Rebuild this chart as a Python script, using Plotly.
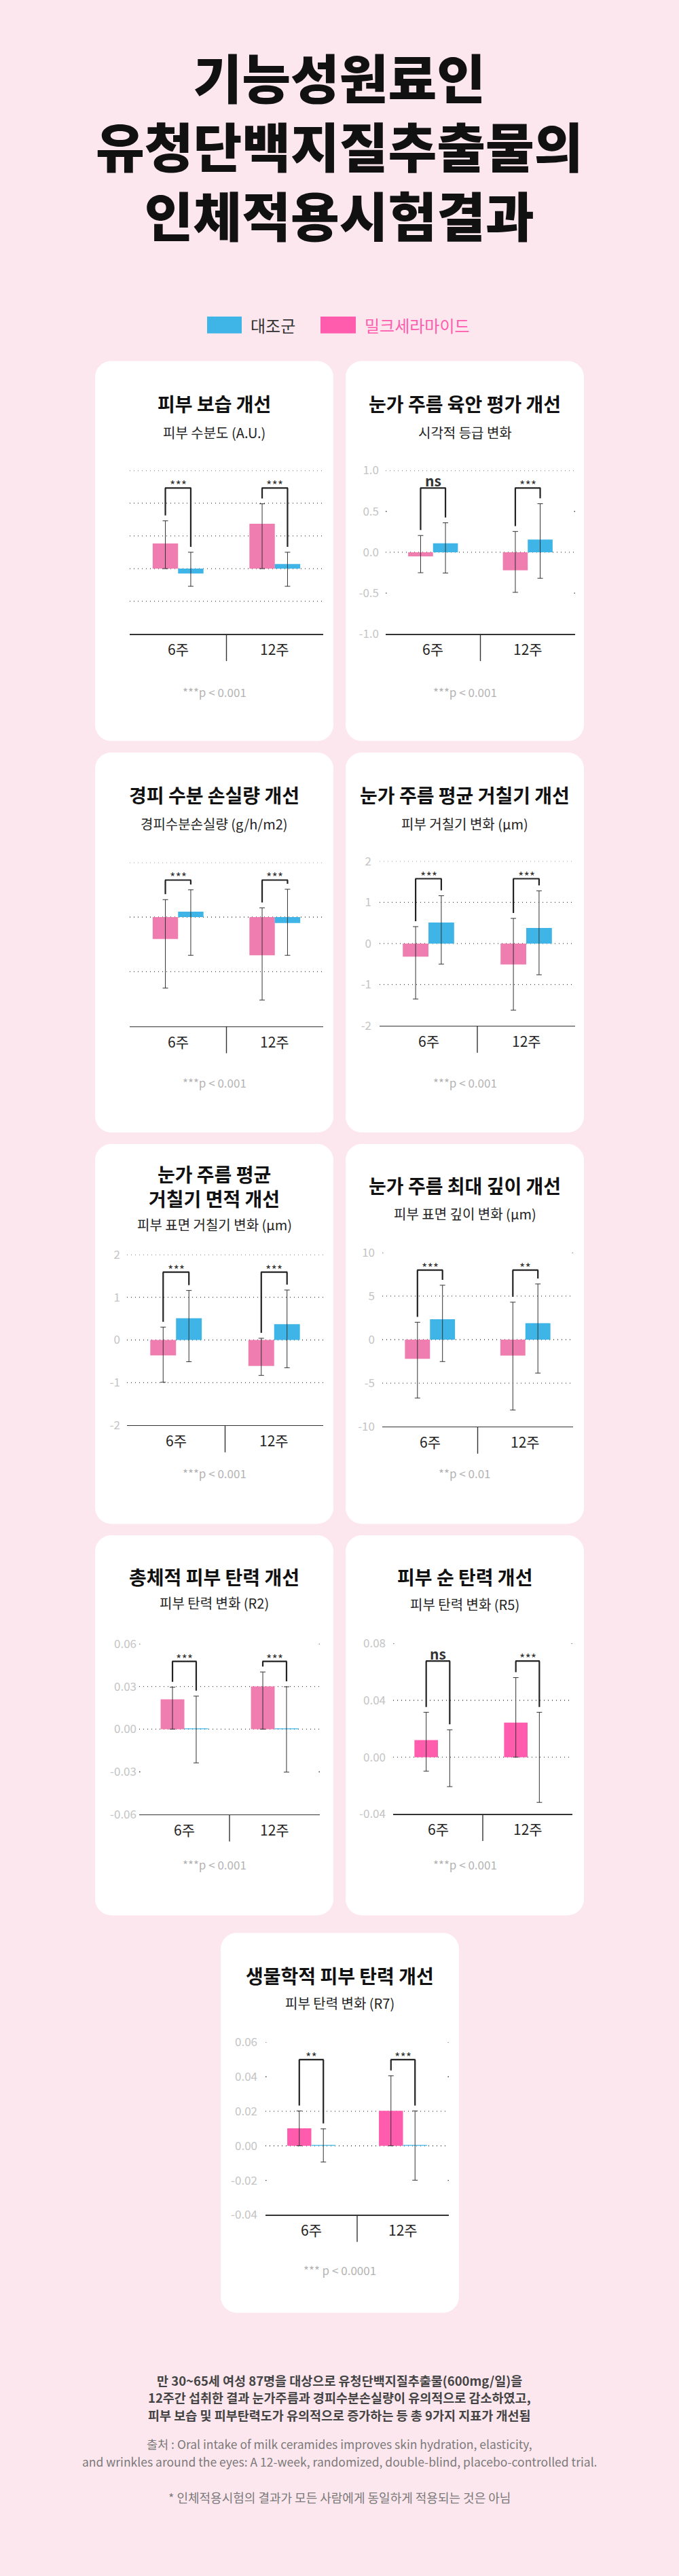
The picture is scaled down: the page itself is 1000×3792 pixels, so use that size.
import plotly.graph_objects as go

# ---------------- data ----------------
categories = ["6주", "12주"]
group_names = ["밀크세라마이드", "대조군"]
legend_labels = ["대조군", "밀크세라마이드"]

main_title = ["기능성원료인", "유청단백지질추출물의", "인체적용시험결과"]

titles = ["피부 보습 개선", "눈가 주름 육안 평가 개선", "경피 수분 손실량 개선",
          "눈가 주름 평균 거칠기 개선", "눈가 주름 평균<br>거칠기 면적 개선",
          "눈가 주름 최대 깊이 개선", "총체적 피부 탄력 개선", "피부 순 탄력 개선",
          "생물학적 피부 탄력 개선"]
subtitles = ["피부 수분도 (A.U.)", "시각적 등급 변화", "경피수분손실량 (g/h/m2)",
             "피부 거칠기 변화 (μm)", "피부 표면 거칠기 변화 (μm)", "피부 표면 깊이 변화 (μm)",
             "피부 탄력 변화 (R2)", "피부 탄력 변화 (R5)", "피부 탄력 변화 (R7)"]
footnotes = ["***p < 0.001", "***p < 0.001", "***p < 0.001", "***p < 0.001", "***p < 0.001",
             "**p < 0.01", "***p < 0.001", "***p < 0.001", "*** p < 0.0001"]
significance = [["***", "***"], ["ns", "***"], ["***", "***"], ["***", "***"], ["***", "***"],
                ["***", "**"], ["***", "***"], ["ns", "***"], ["**", "***"]]

milk_mean = [[0.77, 1.37], [-0.05, -0.22], [-0.40, -0.70], [-0.32, -0.51], [-0.36, -0.61],
             [-2.21, -1.84], [0.021, 0.030], [0.0121, 0.0244], [0.0101, 0.0202]]
milk_upper = [[1.46, 1.98], [0.205, 0.254], [0.32, 0.17], [0.41, 0.61], [0.30, 0.04],
              [2.0, 4.3], [0.0295, 0.0402], [0.0316, 0.056], [0.0202, 0.0405]]
milk_lower = [[0.0, 0.0], [-0.25, -0.49], [-1.30, -1.52], [-1.35, -1.62], [-0.99, -0.83],
              [-6.71, -8.09], [0.0, 0.0], [-0.0098, 0.0], [0.0, 0.0]]
ctrl_mean = [[-0.15, 0.14], [0.11, 0.156], [0.10, -0.11], [0.51, 0.376], [0.51, 0.37],
             [2.35, 1.89], [0.0005, 0.0005], [0.0, 0.0], [0.0005, 0.0005]]
ctrl_upper = [[0.50, 0.50], [0.36, 0.593], [0.50, 0.51], [1.16, 1.28], [1.16, 1.17],
              [6.25, 6.40], [0.0232, 0.0298], [0.0193, 0.0316], [0.0098, 0.0202]]
ctrl_lower = [[-0.54, -0.54], [-0.254, -0.318], [-0.70, -0.70], [-0.50, -0.76], [-0.51, -0.65],
              [-2.52, -3.84], [-0.0237, -0.0302], [-0.0207, -0.0318], [-0.0094, -0.0199]]

y_ranges = [[-2, 3], [-1, 1], [-2, 1], [-2, 2], [-2, 2], [-10, 10],
            [-0.06, 0.06], [-0.04, 0.08], [-0.04, 0.06]]
tick_vals = [[], [1, 0.5, 0, -0.5, -1], [], [2, 1, 0, -1, -2], [2, 1, 0, -1, -2],
             [10, 5, 0, -5, -10], [0.06, 0.03, 0, -0.03, -0.06], [0.08, 0.04, 0, -0.04],
             [0.06, 0.04, 0.02, 0, -0.02, -0.04]]
tick_text = [[], ["1.0", "0.5", "0.0", "-0.5", "-1.0"], [], ["2", "1", "0", "-1", "-2"],
             ["2", "1", "0", "-1", "-2"], ["10", "5", "0", "-5", "-10"],
             ["0.06", "0.03", "0.00", "-0.03", "-0.06"], ["0.08", "0.04", "0.00", "-0.04"],
             ["0.06", "0.04", "0.02", "0.00", "-0.02", "-0.04"]]
grid_full = [[3, 2, 1, 0, -1], [1, 0], [1, 0, -1], [2, 1, 0, -1], [2, 1, 0, -1], [5, 0, -5],
             [0.03, 0], [0.04, 0], [0.02, 0]]
grid_ends = [[], [0.5, -0.5], [], [], [], [10], [0.06, -0.03], [0.08], [0.06, 0.04, -0.02]]

footer_bold = ["만 30~65세 여성 87명을 대상으로 유청단백지질추출물(600mg/일)을",
               "12주간 섭취한 결과 눈가주름과 경피수분손실량이 유의적으로 감소하였고,",
               "피부 보습 및 피부탄력도가 유의적으로 증가하는 등 총 9가지 지표가 개선됨"]
footer_source = ["출처 : Oral intake of milk ceramides improves skin hydration, elasticity,",
                 "and wrinkles around the eyes: A 12-week, randomized, double-blind, placebo-controlled trial."]
footer_note = "* 인체적용시험의 결과가 모든 사람에게 동일하게 적용되는 것은 아님"

# ---------------- layout / style ----------------
W, H = 1000, 3792
BG = "#fde7ee"
PINK = "#ef7db0"
PINK_BRIGHT = "#ff5cae"
BLUE = "#3eb5e6"
FONT = "Noto Sans CJK KR, Noto Sans, sans-serif"
BARGAP = 0.475
CARD_W, CARD_H = 351, 563

geo = [
    dict(card=(140, 521), plot=(191, 476, 683, 925.5), title_y=584, sub_y=626.5, foot_y=1011, gap=0),
    dict(card=(509, 521), plot=(568, 847, 683, 925.5), title_y=584, sub_y=626.5, foot_y=1011, gap=12),
    dict(card=(140, 1101), plot=(191, 476, 1264, 1506.6), title_y=1164, sub_y=1206.5, foot_y=1590, gap=0),
    dict(card=(509, 1101), plot=(559, 847, 1262, 1506), title_y=1164, sub_y=1206.5, foot_y=1590, gap=14),
    dict(card=(140, 1681), plot=(187, 476, 1845, 2098), title_y=1743.5, sub_y=1800, foot_y=2169, gap=12),
    dict(card=(509, 1681), plot=(563, 844, 1842, 2100), title_y=1742, sub_y=1784.7, foot_y=2169, gap=13),
    dict(card=(140, 2261), plot=(205, 471, 2421.7, 2674.7), title_y=2322, sub_y=2361, foot_y=2749, gap=6),
    dict(card=(509, 2261), plot=(579, 843, 2421.3, 2674), title_y=2322, sub_y=2362.8, foot_y=2749, gap=13),
    dict(card=(325, 2850), plot=(391, 661, 3012, 3268), title_y=2913, sub_y=2954, foot_y=3350, gap=14),
]


def px(x):
    return x / W


def py(y):
    return 1 - y / H


def rounded_rect(x0, y0, x1, y1, r):
    k = 0.5523 * r
    def p(x, y):
        return f"{px(x):.6f},{py(y):.6f}"
    return ("M " + p(x0 + r, y0) + " L " + p(x1 - r, y0) +
            " C " + p(x1 - r + k, y0) + " " + p(x1, y0 + r - k) + " " + p(x1, y0 + r) +
            " L " + p(x1, y1 - r) +
            " C " + p(x1, y1 - r + k) + " " + p(x1 - r + k, y1) + " " + p(x1 - r, y1) +
            " L " + p(x0 + r, y1) +
            " C " + p(x0 + r - k, y1) + " " + p(x0, y1 - r + k) + " " + p(x0, y1 - r) +
            " L " + p(x0, y0 + r) +
            " C " + p(x0, y0 + r - k) + " " + p(x0 + r - k, y0) + " " + p(x0 + r, y0) + " Z")


fig = go.Figure()
shapes = []
annotations = []
layout_axes = {}


def text(x, y, s, size, color, weight=400, xanchor="center"):
    annotations.append(dict(x=px(x), y=py(y), xref="paper", yref="paper", text=s, showarrow=False,
                            xanchor=xanchor, yanchor="middle",
                            font=dict(family=FONT, size=size, color=color, weight=weight)))


# main title (one block, three lines)
text(500, 201, "<br>".join(main_title), 78, "#111111", 900)

# legend
for (x0, x1), col, lab, tcol in [((305, 356), BLUE, legend_labels[0], "#333333"),
                                  ((472, 524), PINK_BRIGHT, legend_labels[1], PINK_BRIGHT)]:
    shapes.append(dict(type="rect", xref="paper", yref="paper", x0=px(x0), x1=px(x1),
                       y0=py(480), y1=py(455), fillcolor=col, line=dict(width=0), layer="below"))
    text(x1 + 11, 467.5, lab, 24, tcol, 400, "left")

w_bar = (1 - BARGAP) / 2

for i, g in enumerate(geo):
    n = "" if i == 0 else str(i + 1)
    xr, yr = f"x{n}", f"y{n}"
    cx, cy = g["card"]
    x0, x1, y0, y1 = g["plot"]
    lo, hi = y_ranges[i]
    upp = (hi - lo) / (y1 - y0)  # data units per pixel

    # card
    shapes.append(dict(type="path", xref="paper", yref="paper",
                       path=rounded_rect(cx, cy, cx + CARD_W, cy + CARD_H, 24),
                       fillcolor="#ffffff", line=dict(width=0), layer="below"))

    layout_axes[f"xaxis{n}"] = dict(domain=[px(x0), px(x1)], anchor=yr, type="category",
                                    categoryarray=categories, categoryorder="array",
                                    range=[-0.5, 1.5], showgrid=False, zeroline=False,
                                    showline=True, linecolor="#333333", linewidth=1.2, ticks="",
                                    showticklabels=False, fixedrange=True)
    layout_axes[f"yaxis{n}"] = dict(domain=[py(y1), py(y0)], anchor=xr, range=[lo, hi],
                                    showgrid=False, zeroline=False, showline=False, ticks="",
                                    tickmode="array", tickvals=tick_vals[i], ticktext=tick_text[i],
                                    showticklabels=len(tick_vals[i]) > 0,
                                    tickfont=dict(family=FONT, size=17, color="#c4c4c4"),
                                    ticklabelstandoff=max(g["gap"] - 3, 0), fixedrange=True)

    pink = PINK_BRIGHT if i >= 7 else PINK
    for mean, up, low, col, name in [(milk_mean[i], milk_upper[i], milk_lower[i], pink, group_names[0]),
                                     (ctrl_mean[i], ctrl_upper[i], ctrl_lower[i], BLUE, group_names[1])]:
        fig.add_trace(go.Bar(
            x=categories, y=mean, name=name, marker=dict(color=col, line=dict(width=0)),
            error_y=dict(type="data", symmetric=False,
                         array=[u - m for u, m in zip(up, mean)],
                         arrayminus=[m - l for m, l in zip(mean, low)],
                         color="#333333", thickness=1, width=4),
            xaxis=xr, yaxis=yr, showlegend=False, hoverinfo="skip"))

    # category labels under the axis line
    for cat in categories:
        annotations.append(dict(x=cat, xref=xr, y=py(y1 + 22), yref="paper", text=cat,
                                showarrow=False, xanchor="center", yanchor="middle",
                                font=dict(family=FONT, size=21, color="#222222")))

    # gridlines
    for v in grid_full[i]:
        shapes.append(dict(type="line", xref=f"{xr} domain", yref=yr, x0=0, x1=1, y0=v, y1=v,
                           line=dict(color="#444444", width=1.3, dash="1px,5px"), layer="below"))
    for v in grid_ends[i]:
        for a, b in [(0, 1.5 / (x1 - x0)), (1 - 1.5 / (x1 - x0), 1)]:
            shapes.append(dict(type="line", xref=f"{xr} domain", yref=yr, x0=a, x1=b, y0=v, y1=v,
                               line=dict(color="#444444", width=1.3), layer="below"))

    # divider under the axis
    mid = (x0 + x1) / 2
    shapes.append(dict(type="line", xref="paper", yref="paper", x0=px(mid), x1=px(mid),
                       y0=py(y1), y1=py(y1 + 40), line=dict(color="#333333", width=1.4), layer="above"))

    # significance brackets
    top_val = hi - 26 * upp
    for j in range(2):
        xl, xrr = j - w_bar / 2, j + w_bar / 2
        lb = min(milk_upper[i][j] + 8 * upp, top_val)
        rb = min(ctrl_upper[i][j] + 8 * upp, top_val)
        for (ax0, ay0, ax1, ay1) in [(xl, lb, xl, top_val), (xl - 0.004, top_val, xrr + 0.004, top_val),
                                     (xrr, top_val, xrr, rb)]:
            shapes.append(dict(type="line", xref=xr, yref=yr, x0=ax0, y0=ay0, x1=ax1, y1=ay1,
                               line=dict(color="#222222", width=2.2), layer="above"))
        lab = significance[i][j]
        is_ns = lab == "ns"
        annotations.append(dict(x=j, y=top_val, xref=xr, yref=yr, text=lab, showarrow=False,
                                xanchor="center", yanchor="middle", yshift=11 if is_ns else 5,
                                font=dict(family=FONT, size=21 if is_ns else 18, color="#333333",
                                          weight=700 if is_ns else 400)))

    # texts
    ccx = cx + CARD_W / 2
    text(ccx, g["title_y"], titles[i], 28, "#111111", 700)
    text(ccx, g["sub_y"], subtitles[i], 20, "#222222", 400)
    text(ccx, g["foot_y"], footnotes[i], 17, "#b3b3b3", 400)

# footer
for s, yy in zip(footer_bold, [3513, 3538.5, 3564]):
    text(500, yy, s, 18.5, "#444444", 700)
for s, yy in zip(footer_source, [3607, 3633]):
    text(500, yy, s, 17.5, "#7a7a7a", 400)
text(500, 3686, footer_note, 18, "#7a7a7a", 400)

fig.update_layout(
    width=W, height=H, margin=dict(l=0, r=0, t=0, b=0, pad=0),
    paper_bgcolor=BG, plot_bgcolor="rgba(0,0,0,0)",
    barmode="group", bargap=BARGAP, bargroupgap=0,
    showlegend=False, hovermode=False,
    font=dict(family=FONT),
    shapes=shapes, annotations=annotations,
    **layout_axes,
)

fig.write_html("out.html", config={"displayModeBar": False, "staticPlot": True},
               post_script="document.body.style.margin='0';document.body.style.background='%s';" % BG)
